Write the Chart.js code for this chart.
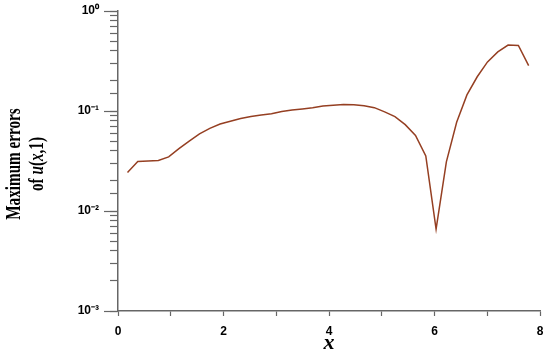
<!DOCTYPE html>
<html>
<head>
<meta charset="utf-8">
<script src="https://cdn.jsdelivr.net/npm/chart.js@4.4.0/dist/chart.umd.min.js"></script>
<style>
  html, body { margin: 0; padding: 0; background: #fff; }
</style>
</head>
<body>
<canvas id="chart" width="550" height="357"></canvas>
<script>
// data
const xValues = [0.18, 0.375, 0.57, 0.765, 0.96, 1.155, 1.35, 1.545, 1.74, 1.935,
  2.13, 2.325, 2.52, 2.715, 2.91, 3.105, 3.3, 3.495, 3.69, 3.885,
  4.08, 4.275, 4.47, 4.665, 4.86, 5.055, 5.25, 5.445, 5.64, 5.835,
  6.03, 6.225, 6.42, 6.615, 6.81, 7.005, 7.2, 7.395, 7.59, 7.785];
const maxErrors = [0.0243, 0.0312, 0.0316, 0.0320, 0.0348, 0.042, 0.050, 0.059, 0.067, 0.074,
  0.079, 0.084, 0.088, 0.091, 0.094, 0.099, 0.1025, 0.105, 0.108, 0.112,
  0.114, 0.116, 0.1155, 0.113, 0.108, 0.098, 0.088, 0.073, 0.057, 0.0355,
  0.0066, 0.031, 0.077, 0.145, 0.22, 0.31, 0.39, 0.457, 0.452, 0.284];
const xLabels = [0, 2, 4, 6, 8];
const yLabels = { "0": "10⁰", "-1": "10⁻¹", "-2": "10⁻²", "-3": "10⁻³" };

const axisColor = "#666";
const tickFont = { family: "Liberation Sans", size: 12, weight: "bold" };

function decade(v) {
    const e = Math.log10(v);
    return Math.abs(e - Math.round(e)) < 1e-6 ? Math.round(e) : null;
}

function fitY(width) {
    return s => {
        s.width = width;
        s.paddingTop = 0;
        s.paddingBottom = 0;
    };
}

// y-axis title: two rotated lines, condensed Times-like with italic parts
const yTitle = {
    id: "yTitle",
    afterDraw(chart) {
        const ctx = chart.ctx;
        const cy = 164;
        const lines = [
            { x: 20, parts: [["Maximum errors", false]] },
            { x: 43, parts: [["of ", false], ["u", true], ["(", false], ["x", true], [",1)", false]] }
        ];
        ctx.save();
        ctx.fillStyle = "#000";
        ctx.textBaseline = "alphabetic";
        ctx.textAlign = "left";
        for (const line of lines) {
            ctx.save();
            ctx.translate(line.x, cy);
            ctx.rotate(-Math.PI / 2);
            ctx.scale(0.76, 1);
            let total = 0;
            for (const [t, it] of line.parts) {
                ctx.font = (it ? "italic " : "") + "bold 20px 'Liberation Serif'";
                total += ctx.measureText(t).width;
            }
            let px = -total / 2;
            for (const [t, it] of line.parts) {
                ctx.font = (it ? "italic " : "") + "bold 20px 'Liberation Serif'";
                ctx.fillText(t, px, 0);
                px += ctx.measureText(t).width;
            }
            ctx.restore();
        }
        ctx.restore();
    }
};

const ctx = document.getElementById("chart").getContext("2d");

new Chart(ctx, {
    type: "line",
    data: {
        datasets: [{
            data: xValues.map((x, i) => ({ x, y: maxErrors[i] })),
            borderColor: "#953f22",
            borderWidth: 1.5,
            pointRadius: 0,
            tension: 0,
            yAxisID: "y"
        }]
    },
    options: {
        responsive: false,
        animation: false,
        devicePixelRatio: 1,
        layout: { padding: { top: 11, right: 10, left: 0, bottom: 0 } },
        plugins: { legend: { display: false }, tooltip: { enabled: false } },
        scales: {
            x: {
                type: "linear",
                min: 0,
                max: 8,
                afterFit: s => {
                    s.height = 46;
                    s.paddingLeft = 0;
                    s.paddingRight = 0;
                },
                border: { color: axisColor, width: 1.5 },
                grid: { drawOnChartArea: false, tickLength: 5, tickColor: axisColor, tickWidth: 1.2 },
                ticks: {
                    stepSize: 1,
                    padding: 8,
                    color: "#000",
                    font: tickFont,
                    maxRotation: 0,
                    callback: v => xLabels.includes(v) ? String(v) : ""
                },
                title: {
                    display: true,
                    text: "x",
                    color: "#000",
                    font: { family: "Liberation Serif", size: 22, weight: "bold", style: "italic" },
                    padding: { top: 2, bottom: 0 }
                }
            },
            y: {
                type: "logarithmic",
                position: "left",
                weight: 1,
                min: 0.001,
                max: 1,
                afterFit: fitY(118),
                border: { color: axisColor, width: 1.5 },
                grid: { drawOnChartArea: false, tickLength: 8, tickColor: axisColor, tickWidth: 1.2 },
                ticks: {
                    padding: 11,
                    color: "#000",
                    font: tickFont,
                    autoSkip: false,
                    callback: v => {
                        const e = decade(v);
                        return e === null ? "" : yLabels[String(e)];
                    }
                }
            },
            yMajor: {
                type: "logarithmic",
                position: "left",
                weight: 0,
                min: 0.001,
                max: 1,
                afterFit: fitY(0),
                afterBuildTicks: s => { s.ticks = s.ticks.filter(t => decade(t.value) !== null); },
                border: { display: false },
                grid: { drawOnChartArea: false, tickLength: 14, tickColor: axisColor, tickWidth: 1.2 },
                ticks: { display: false }
            }
        }
    },
    plugins: [yTitle]
});
</script>
</body>
</html>
